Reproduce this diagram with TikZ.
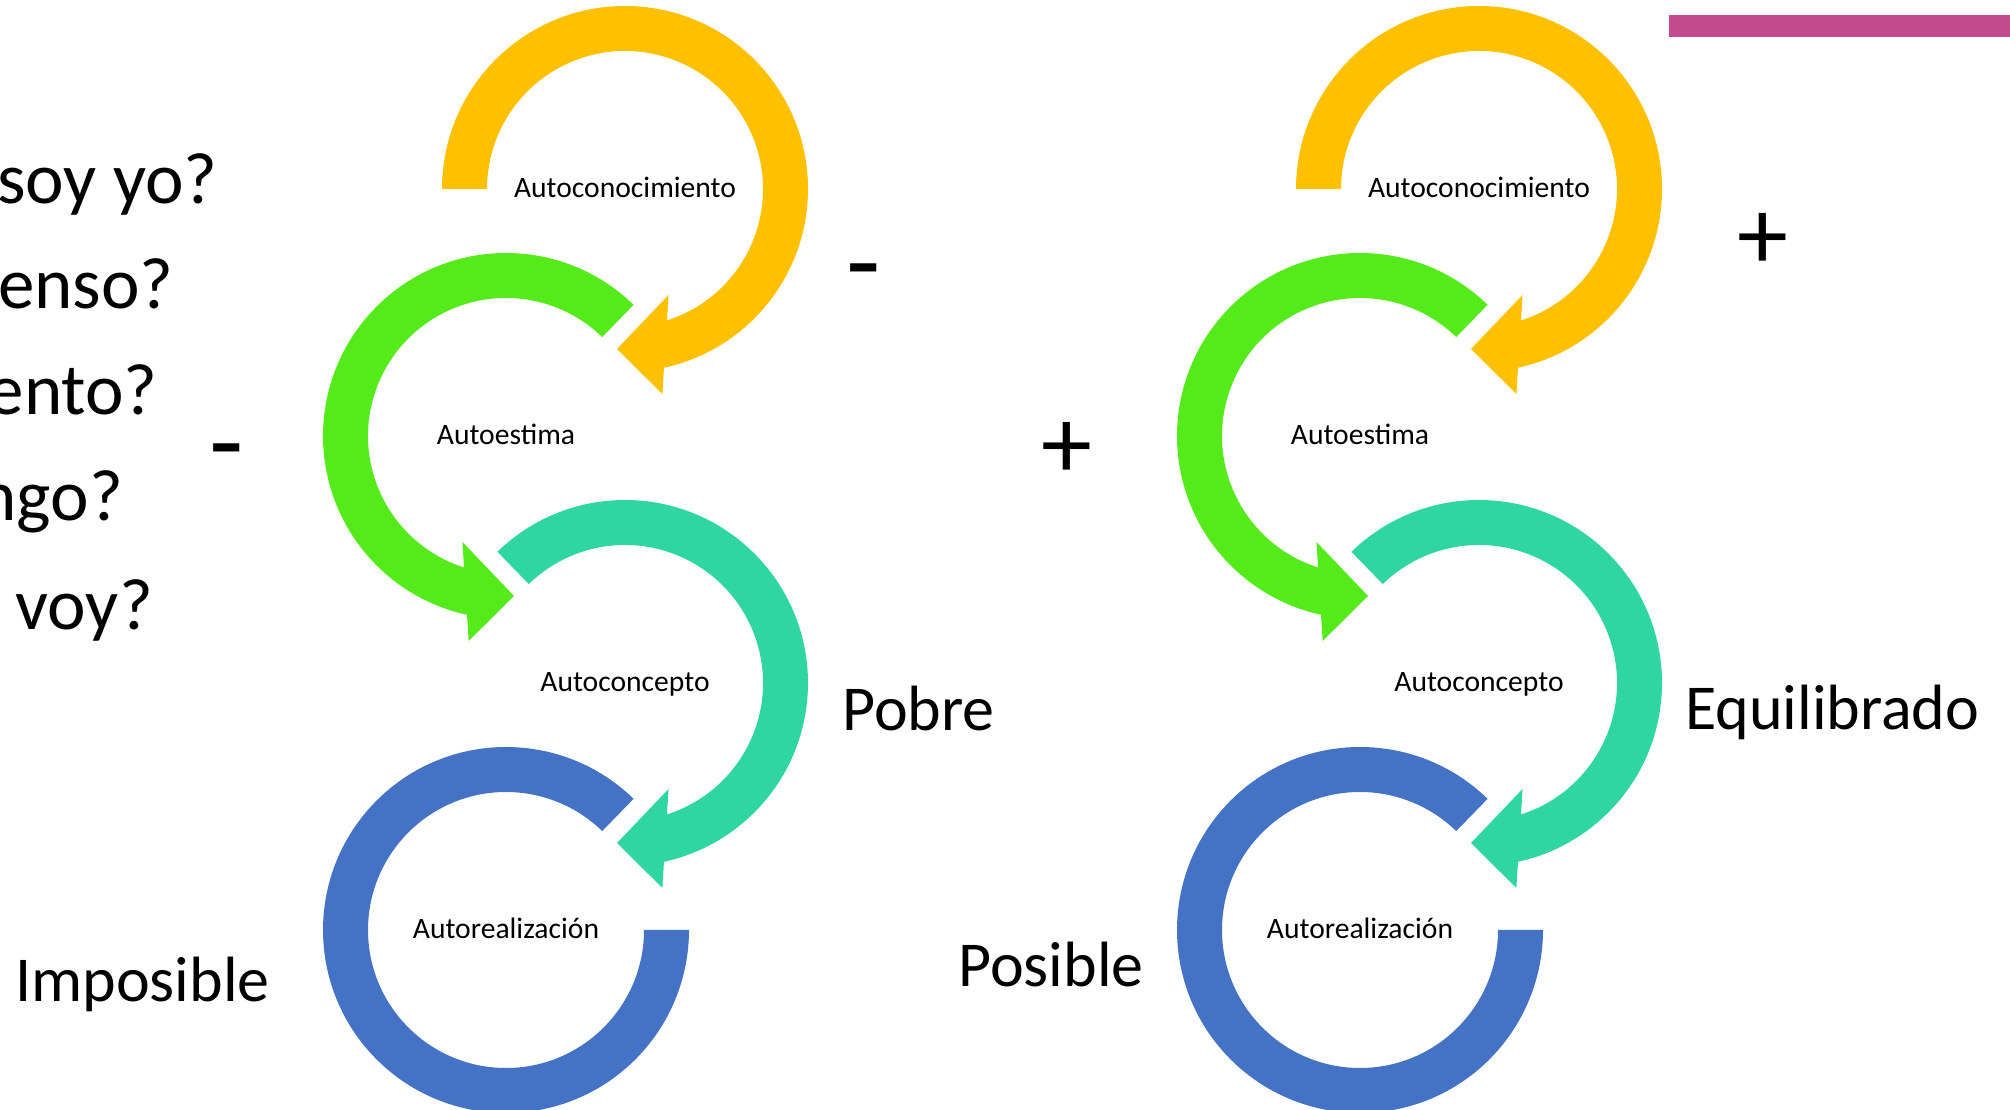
\documentclass[tikz,border=0pt]{standalone}
\usepackage{fontspec}
\setmainfont{Carlito}
\usetikzlibrary{calc}
\definecolor{cyel}{HTML}{FFC000}
\definecolor{cgrn}{HTML}{55EB1A}
\definecolor{ctea}{HTML}{2FD6A2}
\definecolor{cblu}{HTML}{4472C4}
\definecolor{cmag}{HTML}{C44A90}
% clockwise ring ending in an arrowhead at the bottom, pointing left
\newcommand{\ringcw}[3]{%
  \begin{scope}[shift={(#1)}]
    \fill[#3] (#2:183) arc[start angle=#2, end angle=-77.7, radius=183]
      -- (37.35,-205) -- (-8,-160) -- (43.55,-106) -- (-72.3:138)
      arc[start angle=-72.3, end angle=#2, radius=138] -- cycle;
  \end{scope}}
% counter-clockwise ring ending in an arrowhead at the bottom, pointing right
\newcommand{\ringccw}[3]{%
  \begin{scope}[shift={(#1)}]
    \fill[#3] (#2:183) arc[start angle=#2, end angle=257.7, radius=183]
      -- (-37.35,-205) -- (8,-160) -- (-43.55,-106) -- (252.3:138)
      arc[start angle=252.3, end angle=#2, radius=138] -- cycle;
  \end{scope}}
% plain ring without arrowhead
\newcommand{\ringend}[2]{%
  \begin{scope}[shift={(#1)}]
    \fill[#2] (45.8:183) arc[start angle=45.8, end angle=360, radius=183]
      -- (0:138) arc[start angle=360, end angle=45.8, radius=138] -- cycle;
  \end{scope}}
\begin{document}
\begin{tikzpicture}[x=1pt,y=1pt,
  lbl/.style={font=\fontsize{29.6}{35}\selectfont, inner sep=0pt, anchor=base},
  big/.style={font=\fontsize{64}{77}\selectfont, inner sep=0pt, anchor=base west},
  qst/.style={font=\fontsize{73}{88}\selectfont, inner sep=0pt, anchor=base east},
  minus/.style={font=\fontsize{112}{130}\selectfont, inner sep=0pt, anchor=center},
  plus/.style={font=\fontsize{102}{120}\selectfont, inner sep=0pt, anchor=center}]
\useasboundingbox (0,0) rectangle (2010,1110);
\clip (0,0) rectangle (2010,1110);

% ring centres
\coordinate (LY) at (625,921);
\coordinate (LG) at (506,674);
\coordinate (LT) at (625,427);
\coordinate (LB) at (506,180);
\coordinate (RY) at (1479,921);
\coordinate (RG) at (1360,674);
\coordinate (RT) at (1479,427);
\coordinate (RB) at (1360,180);

% magenta bar
\fill[cmag] (1669,1073) rectangle (2010,1095);

% left cycle
\ringend{LB}{cblu}
\ringcw{LT}{134.2}{ctea}
\ringccw{LG}{45.8}{cgrn}
\ringcw{LY}{180}{cyel}

% right cycle
\ringend{RB}{cblu}
\ringcw{RT}{134.2}{ctea}
\ringccw{RG}{45.8}{cgrn}
\ringcw{RY}{180}{cyel}

% ring labels
\node[lbl] (l1) at ($(LY)+(0,-9)$) {Autoconocimiento};
\node[lbl] (l2) at ($(LG)+(0,-9)$) {Autoestima};
\node[lbl] (l3) at ($(LT)+(0,-9)$) {Autoconcepto};
\node[lbl] (l4) at ($(LB)+(0,-9)$) {Autorealización};
\node[lbl] (r1) at ($(RY)+(0,-9)$) {Autoconocimiento};
\node[lbl] (r2) at ($(RG)+(0,-9)$) {Autoestima};
\node[lbl] (r3) at ($(RT)+(0,-9)$) {Autoconcepto};
\node[lbl] (r4) at ($(RB)+(0,-9)$) {Autorealización};

% questions (cut at the left edge, as in the reference)
\node[qst] (q1) at (218,906) {soy yo?};
\node[qst] (q2) at (174,801) {enso?};
\node[qst] (q3) at (158,695) {ento?};
\node[qst] (q4) at (123,589) {ngo?};
\node[qst] (q5) at (153,480) {voy?};

% outcome words
\node[big] (pobre) at (842,379) {Pobre};
\node[big] (equi) at (1685,380) {Equilibrado};
\node[big] (impo) at (15,108) {Imposible};
\node[big] (posi) at (958,123) {Posible};

% signs
\node[minus] (m1) at (227,648) {-};
\node[minus] (m2) at (864,828) {-};
\node[plus] (p1) at (1067,660) {+};
\node[plus] (p2) at (1763,869) {+};
\end{tikzpicture}
\end{document}
